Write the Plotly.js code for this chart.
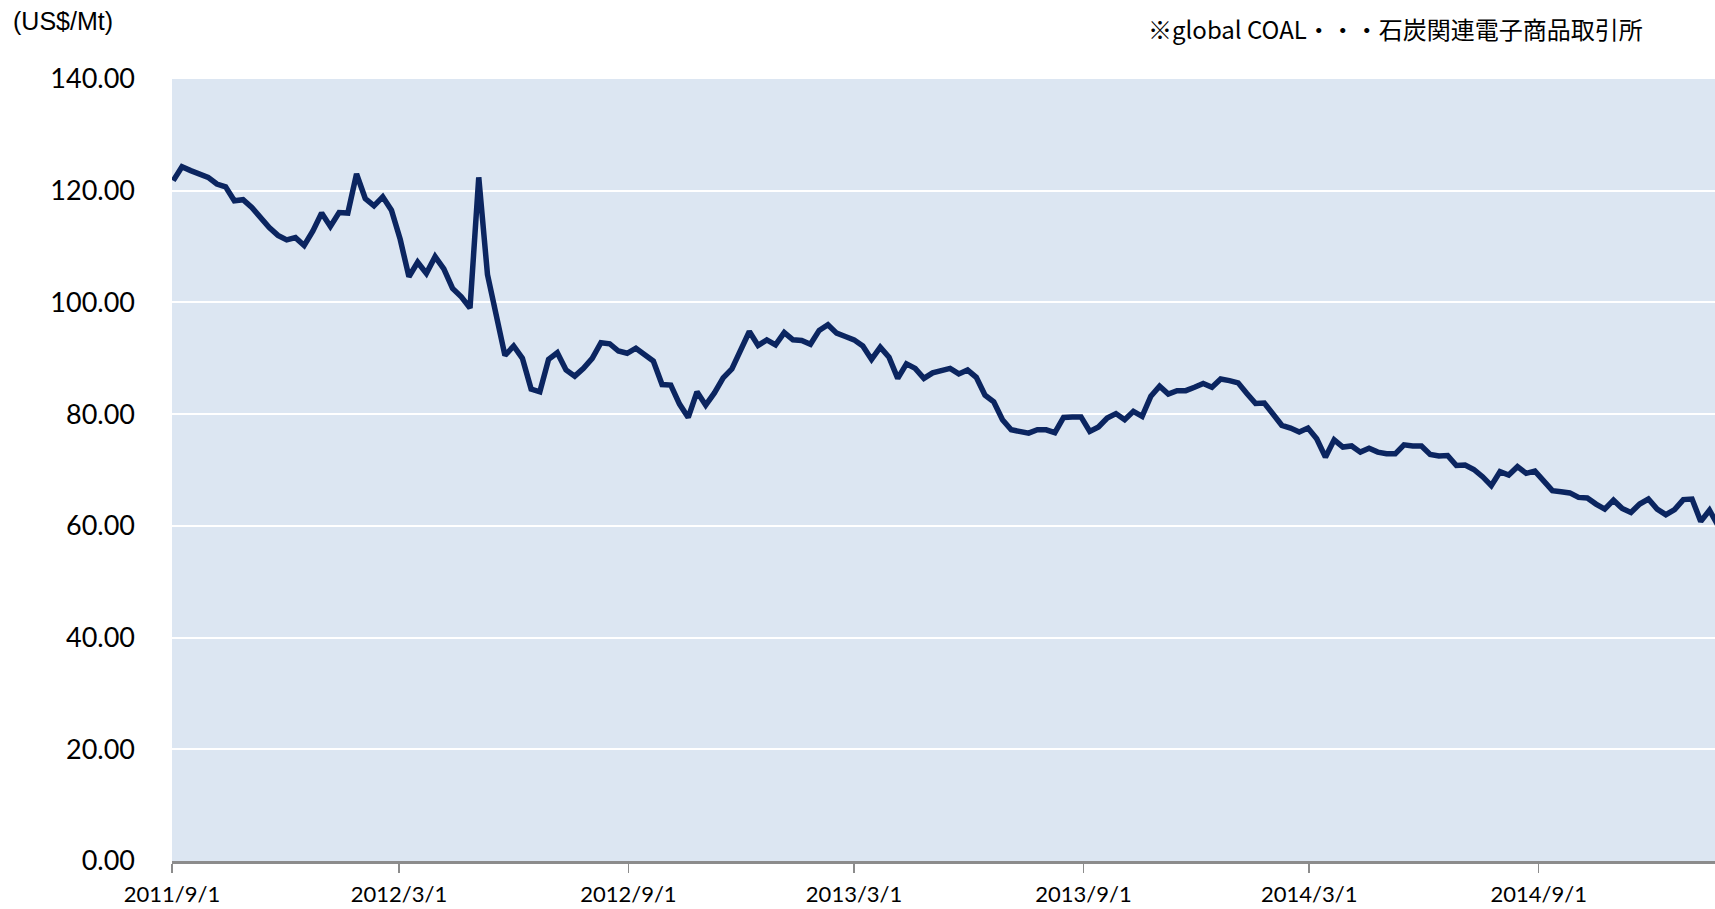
<!DOCTYPE html>
<html>
<head>
<meta charset="utf-8">
<script src="https://cdn.plot.ly/plotly-3.0.1.min.js"></script>
<style>
  html, body { margin: 0; padding: 0; background: #ffffff; }
  #chart { width: 1715px; height: 909px; }
</style>
</head>
<body>
<div id="chart"></div>
<script>
// Weekly dates of the series
const dates = [
  '2011-09-02','2011-09-09','2011-09-16','2011-09-23','2011-09-30','2011-10-07','2011-10-14','2011-10-21','2011-10-28',
  '2011-11-04','2011-11-11','2011-11-18','2011-11-25','2011-12-02','2011-12-09','2011-12-16','2011-12-23','2011-12-30',
  '2012-01-06','2012-01-13','2012-01-20','2012-01-27','2012-02-03','2012-02-10','2012-02-17','2012-02-24',
  '2012-03-02','2012-03-09','2012-03-16','2012-03-23','2012-03-30','2012-04-06','2012-04-13','2012-04-20','2012-04-27',
  '2012-05-04','2012-05-11','2012-05-18','2012-05-25','2012-06-01','2012-06-08','2012-06-15','2012-06-22','2012-06-29',
  '2012-07-06','2012-07-13','2012-07-20','2012-07-27','2012-08-03','2012-08-10','2012-08-17','2012-08-24','2012-08-31',
  '2012-09-07','2012-09-14','2012-09-21','2012-09-28','2012-10-05','2012-10-12','2012-10-19','2012-10-26',
  '2012-11-02','2012-11-09','2012-11-16','2012-11-23','2012-11-30','2012-12-07','2012-12-14','2012-12-21','2012-12-28',
  '2013-01-04','2013-01-11','2013-01-18','2013-01-25','2013-02-01','2013-02-08','2013-02-15','2013-02-22',
  '2013-03-01','2013-03-08','2013-03-15','2013-03-22','2013-03-29','2013-04-05','2013-04-12','2013-04-19','2013-04-26',
  '2013-05-03','2013-05-10','2013-05-17','2013-05-24','2013-05-31','2013-06-07','2013-06-14','2013-06-21','2013-06-28',
  '2013-07-05','2013-07-12','2013-07-19','2013-07-26','2013-08-02','2013-08-09','2013-08-16','2013-08-23','2013-08-30',
  '2013-09-06','2013-09-13','2013-09-20','2013-09-27','2013-10-04','2013-10-11','2013-10-18','2013-10-25',
  '2013-11-01','2013-11-08','2013-11-15','2013-11-22','2013-11-29','2013-12-06','2013-12-13','2013-12-20','2013-12-27',
  '2014-01-03','2014-01-10','2014-01-17','2014-01-24','2014-01-31','2014-02-07','2014-02-14','2014-02-21','2014-02-28',
  '2014-03-07','2014-03-14','2014-03-21','2014-03-28','2014-04-04','2014-04-11','2014-04-18','2014-04-25',
  '2014-05-02','2014-05-09','2014-05-16','2014-05-23','2014-05-30','2014-06-06','2014-06-13','2014-06-20','2014-06-27',
  '2014-07-04','2014-07-11','2014-07-18','2014-07-25','2014-08-01','2014-08-08','2014-08-15','2014-08-22','2014-08-29',
  '2014-09-05','2014-09-12','2014-09-19','2014-09-26','2014-10-03','2014-10-10','2014-10-17','2014-10-24','2014-10-31',
  '2014-11-07','2014-11-14','2014-11-21','2014-11-28','2014-12-05','2014-12-12','2014-12-19','2014-12-26',
  '2015-01-02','2015-01-09','2015-01-16','2015-01-23'
];

// Coal price (US$/Mt)
const prices = [
  121.8,124.3,123.6,123.1,122.4,121.2,120.7,118.2,118.4,
  117.0,115.0,113.4,112.0,111.2,111.6,110.2,112.8,116.0,
  113.6,116.1,116.0,123.0,118.6,117.3,118.9,116.5,
  111.3,104.6,107.2,105.2,108.2,106.0,102.5,101.0,99.0,
  122.4,105.0,97.9,90.5,92.2,90.0,84.5,84.0,89.8,
  91.0,87.9,86.8,88.2,90.0,92.8,92.6,91.3,90.9,
  91.8,90.5,89.5,85.3,85.2,81.8,79.4,84.0,
  81.6,83.8,86.5,88.1,91.5,94.8,92.3,93.3,92.4,
  94.6,93.3,93.2,92.5,95.0,96.0,94.5,93.9,
  93.3,92.2,89.8,92.0,90.2,86.4,89.0,88.2,86.4,
  87.4,87.8,88.2,87.2,87.9,86.6,83.4,82.2,79.0,
  77.2,77.0,76.6,77.2,77.2,76.7,79.4,79.5,79.5,
  76.9,77.7,79.3,80.1,79.0,80.5,79.6,83.2,
  85.0,83.6,84.2,84.2,84.8,85.5,84.8,86.3,86.0,
  85.6,83.7,81.9,82.0,80.0,78.0,77.5,76.8,77.5,
  75.6,72.3,75.4,74.1,74.3,73.2,73.9,73.2,
  72.9,72.9,74.5,74.3,74.3,72.8,72.5,72.6,70.8,
  70.9,70.1,68.8,67.2,69.7,69.1,70.6,69.4,69.8,
  68.1,66.3,66.1,65.9,65.1,65.0,63.9,63.0,64.6,
  63.1,62.4,63.9,64.8,63.0,62.0,62.9,64.7,
  64.8,60.8,62.8,60.0
];

// X-axis tick positions and labels
const tickDates = ['2011-09-01','2012-03-01','2012-09-01','2013-03-01','2013-09-01','2014-03-01','2014-09-01'];
const tickLabels = ['2011/9/1','2012/3/1','2012/9/1','2013/3/1','2013/9/1','2014/3/1','2014/9/1'];

const unitLabel = '(US$/Mt)';
const noteLabel = '※global COAL・・・石炭関連電子商品取引所';

const trace = {
  type: 'scatter',
  mode: 'lines',
  x: dates,
  y: prices,
  line: { color: '#0B2560', width: 5.5 },
  hoverinfo: 'x+y'
};

const layout = {
  width: 1715,
  height: 909,
  margin: { l: 172, r: 0, t: 79, b: 48, pad: 0 },
  paper_bgcolor: '#ffffff',
  plot_bgcolor: '#DCE6F2',
  showlegend: false,
  xaxis: {
    type: 'date',
    range: ['2011-09-01', '2015-01-20 10:00'],
    tickmode: 'array',
    tickvals: tickDates,
    ticktext: tickLabels,
    ticks: 'outside',
    ticklen: 9,
    tickwidth: 1.5,
    tickcolor: '#8c8c8c',
    showline: true,
    linecolor: '#8c8c8c',
    linewidth: 2.5,
    showgrid: false,
    zeroline: false,
    tickfont: { family: 'Lato, "Open Sans", sans-serif', size: 22, color: '#000000' },
    ticklabelstandoff: 3
  },
  yaxis: {
    range: [0, 140],
    tick0: 0,
    dtick: 20,
    tickformat: '.2f',
    showgrid: true,
    gridcolor: '#ffffff',
    gridwidth: 2,
    zeroline: false,
    showline: false,
    ticks: '',
    tickfont: { family: 'Lato, "Open Sans", sans-serif', size: 27, color: '#000000' },
    ticklabelstandoff: 36
  },
  annotations: [
    {
      text: unitLabel,
      xref: 'paper', yref: 'paper',
      x: -0.1043, y: 1.074,
      xanchor: 'left', yanchor: 'middle',
      showarrow: false,
      font: { family: '"Liberation Sans", Arial, sans-serif', size: 25, color: '#000000' }
    },
    {
      text: noteLabel,
      xref: 'paper', yref: 'paper',
      x: 0.9546, y: 1.065,
      xanchor: 'right', yanchor: 'middle',
      showarrow: false,
      font: { family: '"Noto Sans CJK JP", sans-serif', size: 24, color: '#000000' }
    }
  ]
};

Plotly.newPlot('chart', [trace], layout, { displayModeBar: false, staticPlot: true });
</script>
</body>
</html>
